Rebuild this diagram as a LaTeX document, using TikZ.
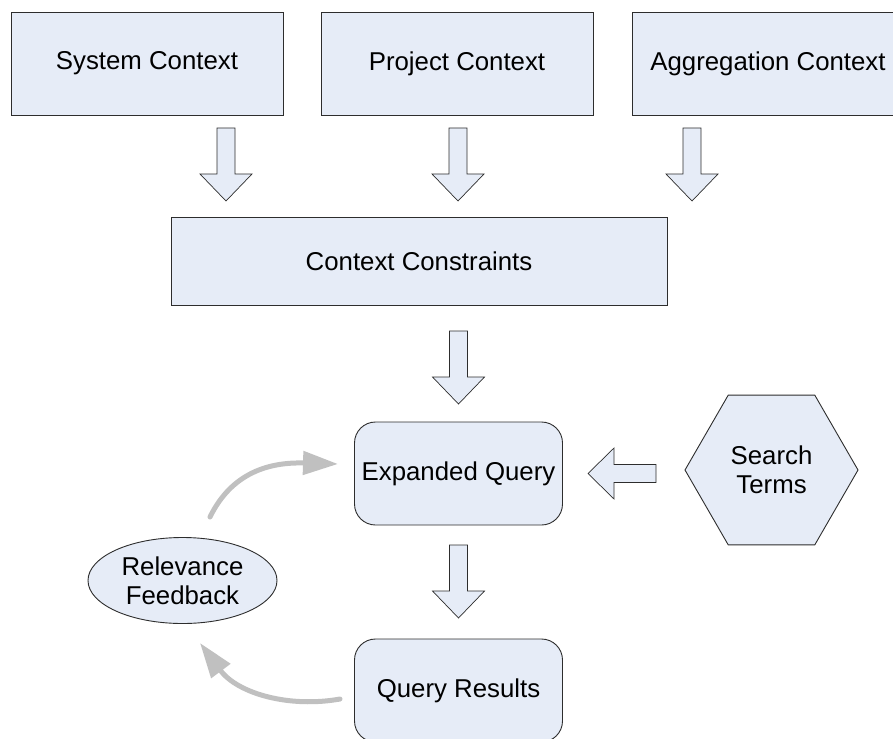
\documentclass[tikz,border=0pt]{standalone}
\usepackage{fontspec}
\setmainfont{Liberation Sans}
\usetikzlibrary{shapes.geometric,arrows.meta}
\definecolor{boxfill}{RGB}{230,236,247}
\definecolor{boxline}{RGB}{45,45,45}
\definecolor{loopgray}{RGB}{192,192,192}
\begin{document}
\begin{tikzpicture}[x=1pt,y=-1pt,
  shape base/.style={draw=boxline, fill=boxfill, line width=0.9pt, inner sep=0pt, outer sep=0pt, align=center, font=\fontsize{25.8}{29}\selectfont},
  ctxbox/.style={shape base, rectangle, minimum width=272pt, minimum height=103pt},
  roundbox/.style={shape base, rectangle, rounded corners=21pt, minimum width=208pt, minimum height=103pt},
  hexbox/.style={shape base, regular polygon, regular polygon sides=6, minimum size=173pt},
  ellbox/.style={shape base, ellipse, minimum width=189pt, minimum height=86pt},
  blockarrow/.style={draw=boxline, fill=boxfill, line width=0.7pt},
  loopback/.style={draw=loopgray, line width=5pt, line cap=round, -{Triangle[length=35pt,width=23pt]}},
  blockdown/.pic={\draw[blockarrow] (-9,0) -- (9,0) -- (9,46) -- (26,46) -- (0,73) -- (-26,46) -- (-9,46) -- cycle;},
  blockleft/.pic={\draw[blockarrow] (68,-9) -- (26,-9) -- (26,-25.5) -- (0,0) -- (26,25.5) -- (26,9) -- (68,9) -- cycle;}
]
\useasboundingbox (0,0) rectangle (893,738);
\clip (0,0) rectangle (893,738);

\node[ctxbox] (sys) at (147,63.5) {System Context};
\node[ctxbox] (proj) at (457,63.5) {Project Context};
\node[ctxbox] (agg) at (768,63.5) {Aggregation Context};

\pic (a1) at (226,128) {blockdown};
\pic (a2) at (458,128) {blockdown};
\pic (a3) at (692,128) {blockdown};

\node[ctxbox, minimum width=496pt, minimum height=88pt] (cc) at (419,261) {Context Constraints};

\pic (a4) at (458.5,331) {blockdown};

\node[roundbox] (eq) at (458.5,473.5) {Expanded Query};
\node[hexbox] (st) at (771.5,470) {Search\\Terms};
\pic (a5) at (588,473.5) {blockleft};

\pic (a6) at (458.5,545) {blockdown};

\node[roundbox] (qr) at (458.5,690.5) {Query Results};
\node[ellbox] (fb) at (182.5,580.5) {Relevance\\Feedback};

\coordinate (fbout) at (210,517);
\coordinate (eqin) at (338,464);
\draw[loopback] (fbout) .. controls (232,472) and (270,462) .. (eqin);

\coordinate (qrout) at (340,699);
\coordinate (fbin) at (200,643);
\draw[loopback] (qrout) .. controls (290,708) and (238,694) .. (fbin);
\end{tikzpicture}
\end{document}
